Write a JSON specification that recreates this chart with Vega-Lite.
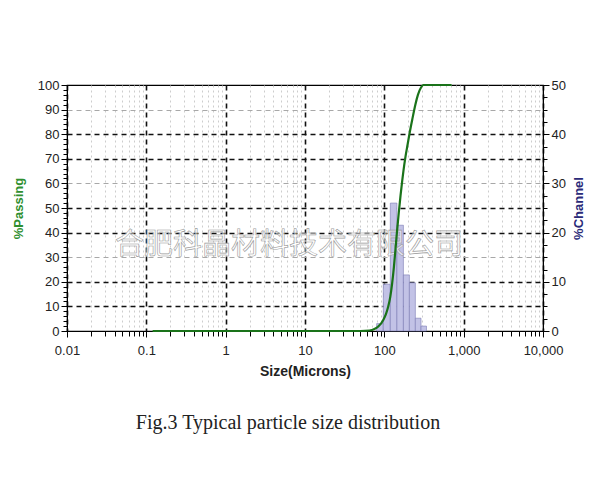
{
  "$schema": "https://vega.github.io/schema/vega-lite/v6.json",
  "width": 476,
  "height": 246,
  "autosize": "none",
  "padding": {"left": 67, "top": 85, "right": 57, "bottom": 169},
  "background": "white",
  "view": {"stroke": "black", "strokeWidth": 1.2},
  "title": {
    "text": "Fig.3 Typical particle size distribution",
    "orient": "bottom",
    "anchor": "middle",
    "offset": 35,
    "dx": -17,
    "font": "Liberation Serif",
    "fontSize": 20,
    "fontWeight": "normal",
    "color": "#222"
  },
  "config": {
    "axis": {
      "labelFont": "Liberation Sans",
      "labelFontSize": 13,
      "labelColor": "#222",
      "titleFont": "Liberation Sans",
      "domainColor": "black",
      "tickColor": "black",
      "labelOverlap": false,
      "labelBound": false,
      "labelFlush": false
    }
  },
  "datasets": {
    "curve": [
      {"size": 0.12, "pass": 0},
      {"size": 50, "pass": 0},
      {"size": 65, "pass": 0.2},
      {"size": 75, "pass": 0.8},
      {"size": 85, "pass": 2},
      {"size": 97, "pass": 4.5},
      {"size": 105, "pass": 7},
      {"size": 112, "pass": 10},
      {"size": 119, "pass": 14},
      {"size": 125, "pass": 19},
      {"size": 132, "pass": 26},
      {"size": 138, "pass": 33},
      {"size": 144, "pass": 40},
      {"size": 152, "pass": 48},
      {"size": 160, "pass": 55},
      {"size": 168, "pass": 61},
      {"size": 174, "pass": 65},
      {"size": 185, "pass": 71},
      {"size": 197, "pass": 76},
      {"size": 207, "pass": 80},
      {"size": 225, "pass": 86},
      {"size": 246, "pass": 92},
      {"size": 265, "pass": 96},
      {"size": 290, "pass": 99},
      {"size": 310, "pass": 100},
      {"size": 704, "pass": 100}
    ],
    "hist": [
      {"lo": 80, "hi": 97, "chan": 1.5},
      {"lo": 97, "hi": 119, "chan": 9.5},
      {"lo": 119, "hi": 144, "chan": 26},
      {"lo": 144, "hi": 174, "chan": 21.5},
      {"lo": 174, "hi": 207, "chan": 11.4},
      {"lo": 207, "hi": 246, "chan": 9.8},
      {"lo": 246, "hi": 290, "chan": 2.6},
      {"lo": 290, "hi": 340, "chan": 1.0}
    ],
    "mark": [
      {"size": 6.3, "pass": 35, "label": "合肥科晶材料技术有限公司"}
    ]
  },
  "layer": [
    {
      "data": {"name": "hist"},
      "mark": {"type": "rect", "fill": "#c2c2e6", "stroke": "#7a7ab4", "strokeWidth": 0.6},
      "encoding": {
        "x": {"field": "lo", "type": "quantitative", "scale": {"type": "log", "domain": [0.01, 10000], "nice": false, "padding": 0}},
        "x2": {"field": "hi"},
        "y": {
          "field": "chan",
          "type": "quantitative",
          "scale": {"domain": [0, 50], "nice": false, "padding": 0, "zero": true},
          "axis": {
            "orient": "right",
            "title": "%Channel",
            "titleColor": "#2a2a78",
            "titleFontSize": 13,
            "titleFontWeight": "bold",
            "titleAngle": -90,
            "titlePadding": 20,
            "values": [0, 2.5, 5, 7.5, 10, 12.5, 15, 17.5, 20, 22.5, 25, 27.5, 30, 32.5, 35, 37.5, 40, 42.5, 45, 47.5, 50],
            "labelExpr": "datum.value % 10 == 0 ? datum.label : ''",
            "tickSize": {"condition": {"test": "datum.value % 10 == 0", "value": 6}, "value": 4},
            "labelPadding": 2,
            "grid": false
          }
        },
        "y2": {"datum": 0}
      }
    },
    {
      "data": {"name": "mark"},
      "mark": {"type": "text", "font": "Noto Sans CJK SC", "fontSize": 29, "fill": "white", "fillOpacity": 0.5, "stroke": "#9a9a9a", "strokeWidth": 0.6},
      "encoding": {
        "x": {"field": "size", "type": "quantitative", "scale": {"type": "log", "domain": [0.01, 10000], "nice": false}},
        "y": {"field": "pass", "type": "quantitative", "scale": {"domain": [0, 100], "nice": false}, "axis": null},
        "text": {"field": "label"}
      }
    },
    {
      "data": {"name": "curve"},
      "mark": {"type": "line", "color": "#1a731a", "strokeWidth": 2.2, "interpolate": "monotone"},
      "encoding": {
        "x": {
          "field": "size",
          "type": "quantitative",
          "scale": {"type": "log", "domain": [0.01, 10000], "nice": false},
          "axis": {
            "title": "Size(Microns)",
            "titleFontSize": 14,
            "titleFontWeight": "bold",
            "titleColor": "#222",
            "titlePadding": 7,
            "values": [0.01,0.02,0.03,0.04,0.05,0.06,0.07,0.08,0.09,0.1,0.2,0.3,0.4,0.5,0.6,0.7,0.8,0.9,1,2,3,4,5,6,7,8,9,10,20,30,40,50,60,70,80,90,100,200,300,400,500,600,700,800,900,1000,2000,3000,4000,5000,6000,7000,8000,9000,10000],
            "labelExpr": "indexof([0.01,0.1,1,10,100,1000,10000], datum.value) >= 0 ? (datum.value >= 1000 ? format(datum.value, ',') : '' + datum.value) : ''",
            "tickSize": {"condition": {"test": "indexof([0.01,0.1,1,10,100,1000,10000], datum.value) >= 0", "value": 6}, "value": 5},
            "labelPadding": 7,
            "grid": true,
            "gridColor": {"condition": {"test": "indexof([0.01,0.1,1,10,100,1000,10000], datum.value) >= 0", "value": "#111"}, "value": "#cdcdcd"},
            "gridDash": {"condition": {"test": "indexof([0.01,0.1,1,10,100,1000,10000], datum.value) >= 0", "value": [5, 4]}, "value": [2, 3]},
            "gridWidth": {"condition": {"test": "indexof([0.01,0.1,1,10,100,1000,10000], datum.value) >= 0", "value": 1.6}, "value": 1}
          }
        },
        "y": {
          "field": "pass",
          "type": "quantitative",
          "scale": {"domain": [0, 100], "nice": false},
          "axis": {
            "orient": "left",
            "title": "%Passing",
            "titleColor": "#2f8f2f",
            "titleFontSize": 13,
            "titleFontWeight": "bold",
            "titlePadding": 12,
            "values": [0,2,4,6,8,10,12,14,16,18,20,22,24,26,28,30,32,34,36,38,40,42,44,46,48,50,52,54,56,58,60,62,64,66,68,70,72,74,76,78,80,82,84,86,88,90,92,94,96,98,100],
            "labelExpr": "datum.value % 10 == 0 ? datum.label : ''",
            "tickSize": {"condition": {"test": "datum.value % 10 == 0", "value": 6}, "value": 4},
            "labelPadding": 2,
            "grid": true,
            "gridColor": {"condition": {"test": "indexof([10,20,40,50,70,80], datum.value) >= 0", "value": "#111"}, "value": "#a8a8a8"},
            "gridOpacity": {"condition": {"test": "datum.value % 10 == 0 && datum.value > 0 && datum.value < 100", "value": 1}, "value": 0},
            "gridWidth": {"condition": {"test": "indexof([10,20,40,50,70,80], datum.value) >= 0", "value": 1.5}, "value": 1},
            "gridDash": [5, 4]
          }
        }
      }
    }
  ],
  "resolve": {"scale": {"y": "independent"}}
}
